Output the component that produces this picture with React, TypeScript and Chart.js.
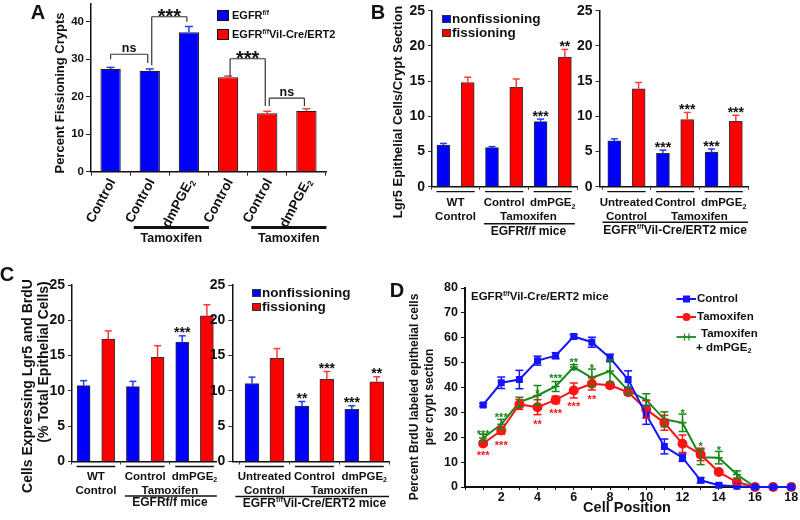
import React, { useEffect, useRef } from "react";
import { Chart, registerables } from "chart.js";
Chart.register(...registerables);

const FONT = "'Liberation Sans', Arial, Helvetica, sans-serif";
const INK = "#111";
const BLUE = "#0000ff";
const RED = "#ff0000";
const BLUE_ERR = "#2838ff";
const RED_ERR = "#ff3c3c";
const D_BLUE = "#1414ff";
const D_RED = "#ff1414";
const D_GREEN = "#17881a";

// ---------- Panel A ----------
const aLabels = ["Control", "Control", "dmPGE\u2082", "Control", "Control", "dmPGE\u2082"];
const aGenotype = [0, 0, 0, 1, 1, 1];
const aValues = [27.4, 26.9, 37.2, 25.2, 15.6, 16.2];
const aErrors = [0.4, 0.5, 1.5, 0.3, 0.5, 0.6];
const aBracketFrom = [0, 1, 3, 4];
const aBracketTo = [1, 2, 4, 5];
const aBracketText = ["ns", "***", "***", "ns"];
const aBracketTop = [31.3, 41.3, 30.1, 19.6];
const aBracketLegFrom = [30.0, 28.4, 25.3, 17.5];
const aBracketLegTo = [29.0, 40.0, 17.5, 17.5];

// ---------- Panel B ----------
const bLeftNonfiss = [5.9, 5.55, 9.25];
const bLeftNonfissErr = [0.25, 0.15, 0.35];
const bLeftNonfissStars = ["", "", "***"];
const bLeftFiss = [14.8, 14.1, 18.4];
const bLeftFissErr = [0.75, 1.2, 1.1];
const bLeftFissStars = ["", "", "**"];
const bRightNonfiss = [6.5, 4.75, 4.9];
const bRightNonfissErr = [0.3, 0.45, 0.45];
const bRightNonfissStars = ["", "***", "***"];
const bRightFiss = [13.9, 9.55, 9.3];
const bRightFissErr = [0.9, 1.0, 0.85];
const bRightFissStars = ["", "***", "***"];

// ---------- Panel C ----------
const cLeftNonfiss = [10.75, 10.6, 16.9];
const cLeftNonfissErr = [0.7, 0.75, 0.9];
const cLeftNonfissStars = ["", "", "***"];
const cLeftFiss = [17.35, 14.75, 20.65];
const cLeftFissErr = [1.15, 1.65, 1.55];
const cLeftFissStars = ["", "", ""];
const cRightNonfiss = [11.05, 7.85, 7.4];
const cRightNonfissErr = [0.9, 0.65, 0.5];
const cRightNonfissStars = ["", "**", "***"];
const cRightFiss = [14.6, 11.65, 11.3];
const cRightFissErr = [1.4, 1.1, 0.7];
const cRightFissStars = ["", "***", "**"];

// ---------- Panel D ----------
const dPositions = [1, 2, 3, 4, 5, 6, 7, 8, 9, 10, 11, 12, 13, 14, 15, 16, 17, 18];
const dControl = [33, 41.9, 43.2, 50.8, 52.8, 60.5, 58.2, 51.9, 43.2, 29, 16.3, 11.8, 2.7, 0.7, 0.3, 0, 0, 0];
const dControlErr = [0.6, 2.3, 3.7, 1.8, 1.2, 0.8, 2.0, 1.5, 3.5, 3.8, 3.0, 1.5, 1.0, 0.5, 0.3, 0, 0, 0];
const dTam = [17.5, 22.7, 33.2, 32.1, 35, 38.8, 41.5, 40.9, 38.1, 31.2, 25.8, 17.4, 13.1, 6, 2, 0, 0, 0];
const dTamErr = [1, 1.5, 2, 3, 1.5, 3, 2.5, 1.2, 1.2, 3.5, 3, 3.5, 2.5, 1, 1, 0, 0, 0];
const dTamPge = [19.7, 25.2, 34.1, 36.8, 40.4, 48.2, 43.9, 46.6, 38.8, 35, 27.2, 25.8, 12, 11.8, 5, 0, 0, 0];
const dTamPgeErr = [1.5, 2, 2, 4, 2, 1, 3.5, 4.5, 1.5, 2.5, 3, 3.5, 3, 2.5, 1.5, 0, 0, 0];
const dGreenStarPos = [1, 2, 4, 5, 6, 7, 12, 13, 14];
const dGreenStarText = ["***", "***", "*", "***", "**", "*", "*", "*", "*"];
const dGreenStarY = [22.2, 28.9, 38.9, 44.7, 51.3, 48.6, 30.9, 17.6, 16];
const dRedStarPos = [1, 2, 4, 5, 6, 7];
const dRedStarText = ["***", "***", "**", "***", "***", "**"];
const dRedStarY = [13.9, 17.8, 26.4, 30.8, 33.4, 36.5];

// ---------- helpers ----------
type Seg = { t: string; sup?: boolean; sub?: boolean };
const EGFR_FF: Seg[] = [{ t: "EGFR" }, { t: "f/f", sup: true }];
const VIL: Seg[] = [...EGFR_FF, { t: "Vil-Cre/ERT2" }];
const DMPGE: Seg[] = [{ t: "dmPGE" }, { t: "2", sub: true }];

function fnt(size: number) {
  return `bold ${size}px ${FONT}`;
}

function toSegs(label: string): Seg[] {
  return label.endsWith("\u2082") ? [{ t: label.slice(0, -1) }, { t: "2", sub: true }] : [{ t: label }];
}

function rich(ctx: any, segs: Seg[], x: number, y: number, size: number, align = "center", color = INK) {
  ctx.save();
  const small = size * 0.62;
  let total = 0;
  for (const s of segs) {
    ctx.font = fnt(s.sup || s.sub ? small : size);
    total += ctx.measureText(s.t).width;
  }
  let cx = align === "center" ? x - total / 2 : align === "right" ? x - total : x;
  ctx.textBaseline = "middle";
  ctx.textAlign = "left";
  ctx.fillStyle = color;
  for (const s of segs) {
    ctx.font = fnt(s.sup || s.sub ? small : size);
    const dy = s.sup ? -size * 0.3 : s.sub ? size * 0.3 : 0;
    ctx.fillText(s.t, cx, y + dy);
    cx += ctx.measureText(s.t).width;
  }
  ctx.restore();
}

function txt(ctx: any, s: string, x: number, y: number, size: number, align = "center", rot = 0, color = INK) {
  ctx.save();
  ctx.translate(x, y);
  if (rot) ctx.rotate(rot);
  ctx.font = fnt(size);
  ctx.fillStyle = color;
  ctx.textAlign = align;
  ctx.textBaseline = "middle";
  ctx.fillText(s, 0, 0);
  ctx.restore();
}

function star(ctx: any, s: string, x: number, cy: number, size: number, color = INK) {
  ctx.save();
  ctx.font = fnt(size);
  ctx.fillStyle = color;
  ctx.textAlign = "center";
  ctx.textBaseline = "alphabetic";
  ctx.fillText(s, x, cy + size * 0.58);
  ctx.restore();
}

function line(ctx: any, x1: number, y1: number, x2: number, y2: number, w = 1.3, color = INK) {
  ctx.save();
  ctx.strokeStyle = color;
  ctx.lineWidth = w;
  ctx.beginPath();
  ctx.moveTo(x1, y1);
  ctx.lineTo(x2, y2);
  ctx.stroke();
  ctx.restore();
}

function zeroPad(s: any) {
  s.paddingLeft = 0;
  s.paddingRight = 0;
  s.paddingTop = 0;
  s.paddingBottom = 0;
}

function pad(area: any, yW: number, xH: number) {
  return { left: area.l - yW, right: 800 - area.r, top: area.t, bottom: 520 - area.b - xH };
}

const barErrPlugin = {
  id: "barErr",
  afterDatasetsDraw(chart: any) {
    const ctx = chart.ctx;
    const ys = chart.scales.y;
    chart.data.datasets.forEach((ds: any, i: number) => {
      const meta = chart.getDatasetMeta(i);
      meta.data.forEach((el: any, j: number) => {
        const raw = ds.data[j];
        const v = typeof raw === "number" ? raw : raw.y;
        const e = ds.errors ? ds.errors[j] : 0;
        const col = Array.isArray(ds.errColor) ? ds.errColor[j] : ds.errColor;
        const yTop = ys.getPixelForValue(v + e);
        if (e) {
          line(ctx, el.x, el.y, el.x, yTop, 1.5, col);
          line(ctx, el.x - ds.capW, yTop, el.x + ds.capW, yTop, 1.5, col);
        }
        if (ds.stars && ds.stars[j]) star(ctx, ds.stars[j], el.x, yTop - 6.5, 14);
      });
    });
  },
};

// ---------- Panel A ----------
function configA() {
  const area = { l: 91, t: 4, r: 326, b: 171.7 };
  const yW = 40, xH = 70;
  const annot = {
    id: "annoA",
    afterDraw(chart: any) {
      const ctx = chart.ctx;
      const xs = chart.scales.x, ys = chart.scales.y;
      const px = (i: number) => xs.getPixelForValue(i);
      // rotated category labels
      aLabels.forEach((lab, i) => {
        ctx.save();
        ctx.translate(px(i) + 2, chart.chartArea.bottom + 8);
        ctx.rotate((-62 * Math.PI) / 180);
        rich(ctx, toSegs(lab), 0, 0, 13.5, "right");
        ctx.restore();
      });
      // brackets
      aBracketFrom.forEach((f, k) => {
        const x1 = px(f) + (k === 0 ? 0 : 2);
        const x2 = px(aBracketTo[k]) - 2;
        const yt = ys.getPixelForValue(aBracketTop[k]);
        line(ctx, x1, ys.getPixelForValue(aBracketLegFrom[k]), x1, yt, 1.2, "#333");
        line(ctx, x1, yt, x2, yt, 1.2, "#333");
        line(ctx, x2, yt, x2, ys.getPixelForValue(aBracketLegTo[k]), 1.2, "#333");
        if (aBracketText[k] === "ns") {
          ctx.save();
          ctx.font = fnt(12.5);
          ctx.fillStyle = INK;
          ctx.textAlign = "center";
          ctx.textBaseline = "alphabetic";
          ctx.fillText("ns", (x1 + x2) / 2, yt - 2.5);
          ctx.restore();
        } else {
          star(ctx, aBracketText[k], (x1 + x2) / 2, yt - 5.5, 20);
        }
      });
      // treatment bars
      const tl = [[1, 2], [4, 5]];
      tl.forEach(([a, b]) => {
        const x1 = px(a) - 16, x2 = px(b) + 20;
        line(ctx, x1, 227.5, x2, 227.5, 3, INK);
        txt(ctx, "Tamoxifen", (x1 + x2) / 2, 239, 12.5);
      });
      // legend
      ctx.save();
      ctx.lineWidth = 1;
      ctx.strokeStyle = INK;
      ctx.fillStyle = BLUE;
      ctx.fillRect(217, 10, 12, 11);
      ctx.strokeRect(217.5, 10.5, 11, 10);
      ctx.fillStyle = RED;
      ctx.fillRect(217, 29, 12, 11);
      ctx.strokeRect(217.5, 29.5, 11, 10);
      ctx.restore();
      rich(ctx, EGFR_FF, 232, 16, 11, "left");
      rich(ctx, VIL, 232, 35, 11, "left");
      // titles
      txt(ctx, "Percent Fissioning Crypts", 60, 93, 13, "center", -Math.PI / 2);
      txt(ctx, "A", 38, 13, 20);
    },
  };
  return {
    type: "bar",
    data: {
      labels: aLabels,
      datasets: [
        {
          data: aValues,
          backgroundColor: aGenotype.map((g) => (g === 0 ? BLUE : RED)),
          borderColor: "#222",
          borderWidth: 1.2,
          barPercentage: 0.52,
          categoryPercentage: 1,
          errors: aErrors,
          errColor: aGenotype.map((g) => (g === 0 ? BLUE_ERR : RED_ERR)),
          capW: 4,
        },
      ],
    },
    options: {
      responsive: false,
      animation: false,
      events: [],
      layout: { padding: pad(area, yW, xH) },
      plugins: { legend: { display: false }, tooltip: { enabled: false } },
      scales: {
        x: {
          offset: true,
          grid: { display: true, offset: true, drawOnChartArea: false, drawTicks: true, tickLength: 4, color: "#222", lineWidth: 1 },
          border: { display: true, color: INK, width: 1.5 },
          ticks: { display: false },
          afterFit: (s: any) => { s.height = xH; zeroPad(s); },
        },
        y: {
          min: 0,
          max: 44.7,
          ticks: { stepSize: 10, includeBounds: false, font: { family: FONT, size: 11.5, weight: "bold" }, color: INK, padding: 2 },
          grid: { drawOnChartArea: false, drawTicks: true, tickLength: 5, color: "#222" },
          border: { display: true, color: INK, width: 1.5 },
          afterFit: (s: any) => { s.width = yW; zeroPad(s); },
        },
      },
    },
    plugins: [barErrPlugin, annot],
  };
}

// ---------- grouped bar panels (B, C) ----------
function drawGroupLabels(chart: any, o: any) {
  const ctx = chart.ctx;
  const ca = chart.chartArea;
  const xs = chart.scales.x;
  const ax = ca.bottom;
  const px = (v: number) => xs.getPixelForValue(v);
  const gc = (g: number) => (px(2 * g) + px(2 * g + 1)) / 2;
  for (let g = 0; g < 3; g++) line(ctx, px(2 * g) - 7, ax + o.seg, px(2 * g + 1) + 7, ax + o.seg, 1.3);
  o.line1.forEach((segs: Seg[], g: number) => rich(ctx, segs, gc(g), ax + o.l1, o.size));
  rich(ctx, [{ t: "Control" }], gc(0), ax + o.l2, o.size);
  rich(ctx, [{ t: "Tamoxifen" }], (gc(1) + gc(2)) / 2, ax + o.l2, o.size);
  const x0 = o.full ? ca.left + 3 : px(2) - 8;
  const x1 = o.full ? ca.right : px(5) + 10;
  line(ctx, x0, ax + o.tl, x1, ax + o.tl, 1.6);
  rich(ctx, o.geno, o.full ? gc(1) : (gc(1) + gc(2)) / 2, ax + o.gy, o.gsize);
}

function drawBarLegend(ctx: any, x: number, y1: number, y2: number) {
  ctx.save();
  ctx.strokeStyle = "#333";
  ctx.lineWidth = 1;
  ctx.fillStyle = BLUE;
  ctx.fillRect(x, y1 - 4, 9, 8);
  ctx.strokeRect(x + 0.5, y1 - 3.5, 8, 7);
  ctx.fillStyle = RED;
  ctx.fillRect(x, y2 - 4, 9, 8);
  ctx.strokeRect(x + 0.5, y2 - 3.5, 8, 7);
  ctx.restore();
  txt(ctx, "nonfissioning", x + 10, y1, 13.5, "left");
  txt(ctx, "fissioning", x + 10, y2, 13.5, "left");
}

function barPanel(p: any) {
  const yW = 40, xH = 10;
  const blue = p.nonfiss.map((v: number, g: number) => ({ x: 2 * g, y: v }));
  const red = p.fiss.map((v: number, g: number) => ({ x: 2 * g + 1, y: v }));
  return {
    type: "bar",
    data: {
      datasets: [
        { data: blue, backgroundColor: BLUE, borderColor: "#333", borderWidth: 1, barThickness: p.barW, grouped: false, errors: p.nonfissErr, errColor: BLUE_ERR, stars: p.nonfissStars, capW: 3.5 },
        { data: red, backgroundColor: RED, borderColor: "#333", borderWidth: 1, barThickness: p.barW, grouped: false, errors: p.fissErr, errColor: RED_ERR, stars: p.fissStars, capW: 3.5 },
      ],
    },
    options: {
      responsive: false,
      animation: false,
      events: [],
      layout: { padding: pad(p.area, yW, xH) },
      plugins: { legend: { display: false }, tooltip: { enabled: false } },
      scales: {
        x: {
          type: "linear",
          min: p.xMin,
          max: p.xMax,
          offset: false,
          afterBuildTicks: (s: any) => { s.ticks = [-0.5, 1.5, 3.5, 5.5].map((v) => ({ value: v })); },
          ticks: { display: false },
          grid: { display: true, offset: false, drawOnChartArea: false, drawTicks: true, tickLength: 3, color: "#333" },
          border: { display: true, color: INK, width: 1.5 },
          afterFit: (s: any) => { s.height = xH; zeroPad(s); },
        },
        y: {
          min: 0,
          max: 25,
          ticks: { stepSize: 5, font: { family: FONT, size: 14, weight: "bold" }, color: INK, padding: 3 },
          grid: { drawOnChartArea: false, drawTicks: true, tickLength: 4, color: "#333" },
          border: { display: true, color: INK, width: 1.5 },
          afterFit: (s: any) => { s.width = yW; zeroPad(s); },
        },
      },
    },
    plugins: [barErrPlugin, { id: "anno", afterDraw: (chart: any) => p.draw(chart) }],
  };
}

const B_OFF = { seg: 5, l1: 16.5, l2: 30.5, tl: 37, gy: 44.5, size: 11.5, gsize: 12 };
const C_OFF = { seg: 5, l1: 15, l2: 29, tl: 34.5, gy: 41.5, size: 11.5, gsize: 12 };

function configBLeft() {
  return barPanel({
    area: { l: 432, t: 10.7, r: 577, b: 186.7 },
    xMin: -0.47, xMax: 5.5, barW: 13,
    nonfiss: bLeftNonfiss, nonfissErr: bLeftNonfissErr, nonfissStars: bLeftNonfissStars,
    fiss: bLeftFiss, fissErr: bLeftFissErr, fissStars: bLeftFissStars,
    draw: (chart: any) => {
      const ctx = chart.ctx;
      drawGroupLabels(chart, { ...B_OFF, full: false, line1: [[{ t: "WT" }], [{ t: "Control" }], DMPGE], geno: [{ t: "EGFRf/f mice" }] });
      drawBarLegend(ctx, 442, 19, 33);
      txt(ctx, "Lgr5 Epithelial Cells/Crypt Section", 398, 112, 13, "center", -Math.PI / 2);
      txt(ctx, "B", 378, 13, 20);
    },
  });
}

function configBRight() {
  return barPanel({
    area: { l: 599.5, t: 10.7, r: 748, b: 186.7 },
    xMin: -0.61, xMax: 5.5, barW: 13,
    nonfiss: bRightNonfiss, nonfissErr: bRightNonfissErr, nonfissStars: bRightNonfissStars,
    fiss: bRightFiss, fissErr: bRightFissErr, fissStars: bRightFissStars,
    draw: (chart: any) => {
      drawGroupLabels(chart, { ...B_OFF, tl: 35.5, gy: 43.5, full: true, line1: [[{ t: "Untreated" }], [{ t: "Control" }], DMPGE], geno: [...VIL, { t: " mice" }] });
    },
  });
}

function configCLeft() {
  return barPanel({
    area: { l: 72, t: 285, r: 216, b: 461.5 },
    xMin: -0.47, xMax: 5.37, barW: 13,
    nonfiss: cLeftNonfiss, nonfissErr: cLeftNonfissErr, nonfissStars: cLeftNonfissStars,
    fiss: cLeftFiss, fissErr: cLeftFissErr, fissStars: cLeftFissStars,
    draw: (chart: any) => {
      const ctx = chart.ctx;
      drawGroupLabels(chart, { ...C_OFF, full: false, line1: [[{ t: "WT" }], [{ t: "Control" }], DMPGE], geno: [{ t: "EGFRf/f mice" }] });
      txt(ctx, "Cells Expressing Lgr5 and BrdU", 28, 386, 14, "center", -Math.PI / 2);
      txt(ctx, "(% Total Epithelial Cells)", 44, 362, 14, "center", -Math.PI / 2);
      txt(ctx, "C", 7, 275, 20);
    },
  });
}

function configCRight() {
  return barPanel({
    area: { l: 232.3, t: 285, r: 389, b: 461.5 },
    xMin: -0.79, xMax: 5.49, barW: 14,
    nonfiss: cRightNonfiss, nonfissErr: cRightNonfissErr, nonfissStars: cRightNonfissStars,
    fiss: cRightFiss, fissErr: cRightFissErr, fissStars: cRightFissStars,
    draw: (chart: any) => {
      const ctx = chart.ctx;
      drawGroupLabels(chart, { ...C_OFF, tl: 35, gy: 42, full: true, line1: [[{ t: "Untreated" }], [{ t: "Control" }], DMPGE], geno: [...VIL, { t: " mice" }] });
      drawBarLegend(ctx, 252, 293, 307);
    },
  });
}

// ---------- Panel D ----------
function configD() {
  const area = { l: 465, t: 288, r: 798, b: 487 };
  const yW = 40, xH = 22;
  const mk = (vals: number[]) => dPositions.map((x, i) => ({ x, y: vals[i] }));
  const errPlugin = {
    id: "dErr",
    afterDatasetsDraw(chart: any) {
      const ctx = chart.ctx;
      const xs = chart.scales.x, ys = chart.scales.y;
      chart.data.datasets.forEach((ds: any) => {
        ds.data.forEach((pt: any, j: number) => {
          const e = ds.errors[j];
          if (!e) return;
          const x = xs.getPixelForValue(pt.x);
          const y1 = ys.getPixelForValue(pt.y + e);
          const y2 = ys.getPixelForValue(pt.y - e);
          line(ctx, x, y1, x, y2, 1.5, ds.borderColor);
          line(ctx, x - 4, y1, x + 4, y1, 1.5, ds.borderColor);
          line(ctx, x - 4, y2, x + 4, y2, 1.5, ds.borderColor);
        });
      });
      dGreenStarPos.forEach((p, k) => star(ctx, dGreenStarText[k], xs.getPixelForValue(p), ys.getPixelForValue(dGreenStarY[k]), 11, D_GREEN));
      dRedStarPos.forEach((p, k) => star(ctx, dRedStarText[k], xs.getPixelForValue(p), ys.getPixelForValue(dRedStarY[k]), 11, D_RED));
    },
  };
  const annot = {
    id: "annoD",
    afterDraw(chart: any) {
      const ctx = chart.ctx;
      rich(ctx, [...VIL, { t: " mice" }], 471, 297, 11.5, "left");
      // legend
      line(ctx, 676.5, 299, 696, 299, 2, D_BLUE);
      ctx.save();
      ctx.fillStyle = D_BLUE;
      ctx.fillRect(683, 295.5, 7, 7);
      ctx.fillStyle = D_RED;
      ctx.beginPath();
      ctx.arc(686.5, 317, 4, 0, Math.PI * 2);
      ctx.fill();
      ctx.restore();
      line(ctx, 676.5, 317, 696, 317, 2, D_RED);
      line(ctx, 676.5, 337, 696, 337, 1.8, D_GREEN);
      line(ctx, 684.5, 333.5, 684.5, 340.5, 1.2, D_GREEN);
      line(ctx, 689, 333.5, 689, 340.5, 1.2, D_GREEN);
      txt(ctx, "Control", 697, 299, 11.5, "left");
      txt(ctx, "Tamoxifen", 697, 317, 11.5, "left");
      txt(ctx, "Tamoxifen", 701, 333.5, 11.5, "left");
      rich(ctx, [{ t: "+ " }, ...DMPGE], 696, 347.5, 11.5, "left");
      // titles
      txt(ctx, "Percent BrdU labeled epithelial cells", 415, 397, 12, "center", -Math.PI / 2);
      txt(ctx, "per crypt section", 430, 397, 12, "center", -Math.PI / 2);
      txt(ctx, "Cell Position", 627, 508, 14.5);
      txt(ctx, "D", 397, 291, 20);
    },
  };
  return {
    type: "line",
    data: {
      datasets: [
        { data: mk(dControl), errors: dControlErr, borderColor: D_BLUE, backgroundColor: D_BLUE, pointBackgroundColor: D_BLUE, pointBorderColor: D_BLUE, pointStyle: "rect", pointRadius: 3.5, borderWidth: 2, tension: 0, clip: false },
        { data: mk(dTam), errors: dTamErr, borderColor: D_RED, backgroundColor: D_RED, pointBackgroundColor: D_RED, pointBorderColor: D_RED, pointStyle: "circle", pointRadius: 4, borderWidth: 2, tension: 0, clip: false },
        { data: mk(dTamPge), errors: dTamPgeErr, borderColor: D_GREEN, backgroundColor: D_GREEN, pointBackgroundColor: D_GREEN, pointBorderColor: D_GREEN, pointStyle: "cross", pointRadius: 4, pointBorderWidth: 1.5, borderWidth: 2, tension: 0, clip: false },
      ],
    },
    options: {
      responsive: false,
      animation: false,
      events: [],
      layout: { padding: pad(area, yW, xH) },
      plugins: { legend: { display: false }, tooltip: { enabled: false } },
      scales: {
        x: {
          type: "linear",
          min: 0,
          max: 18.15,
          ticks: {
            stepSize: 1,
            includeBounds: false,
            autoSkip: false,
            maxRotation: 0,
            callback: (v: any) => (v > 0 && v % 2 === 0 ? String(v) : ""),
            font: { family: FONT, size: 12.5, weight: "bold" },
            color: INK,
            padding: 0,
          },
          grid: { drawOnChartArea: false, drawTicks: true, tickLength: 3, color: INK },
          border: { display: true, color: INK, width: 2 },
          afterFit: (s: any) => { s.height = xH; zeroPad(s); },
        },
        y: {
          min: 0,
          max: 80,
          ticks: { stepSize: 10, font: { family: FONT, size: 12.5, weight: "bold" }, color: INK, padding: 3 },
          grid: { drawOnChartArea: false, drawTicks: true, tickLength: 4, color: INK },
          border: { display: true, color: INK, width: 2 },
          afterFit: (s: any) => { s.width = yW; zeroPad(s); },
        },
      },
    },
    plugins: [errPlugin, annot],
  };
}

const builders = [configA, configBLeft, configBRight, configCLeft, configCRight, configD];

export default function App() {
  const refs = useRef<(HTMLCanvasElement | null)[]>([]);
  useEffect(() => {
    const charts = builders.map((b, i) => new Chart(refs.current[i] as any, b() as any));
    return () => charts.forEach((c) => c.destroy());
  }, []);
  return (
    <div style={{ position: "fixed", left: 0, top: 0, width: 800, height: 520, background: "#fff", overflow: "hidden" }}>
      {builders.map((_, i) => (
        <canvas
          key={i}
          ref={(el) => { refs.current[i] = el; }}
          width={800}
          height={520}
          style={{ position: "absolute", left: 0, top: 0, width: 800, height: 520 }}
        />
      ))}
    </div>
  );
}
